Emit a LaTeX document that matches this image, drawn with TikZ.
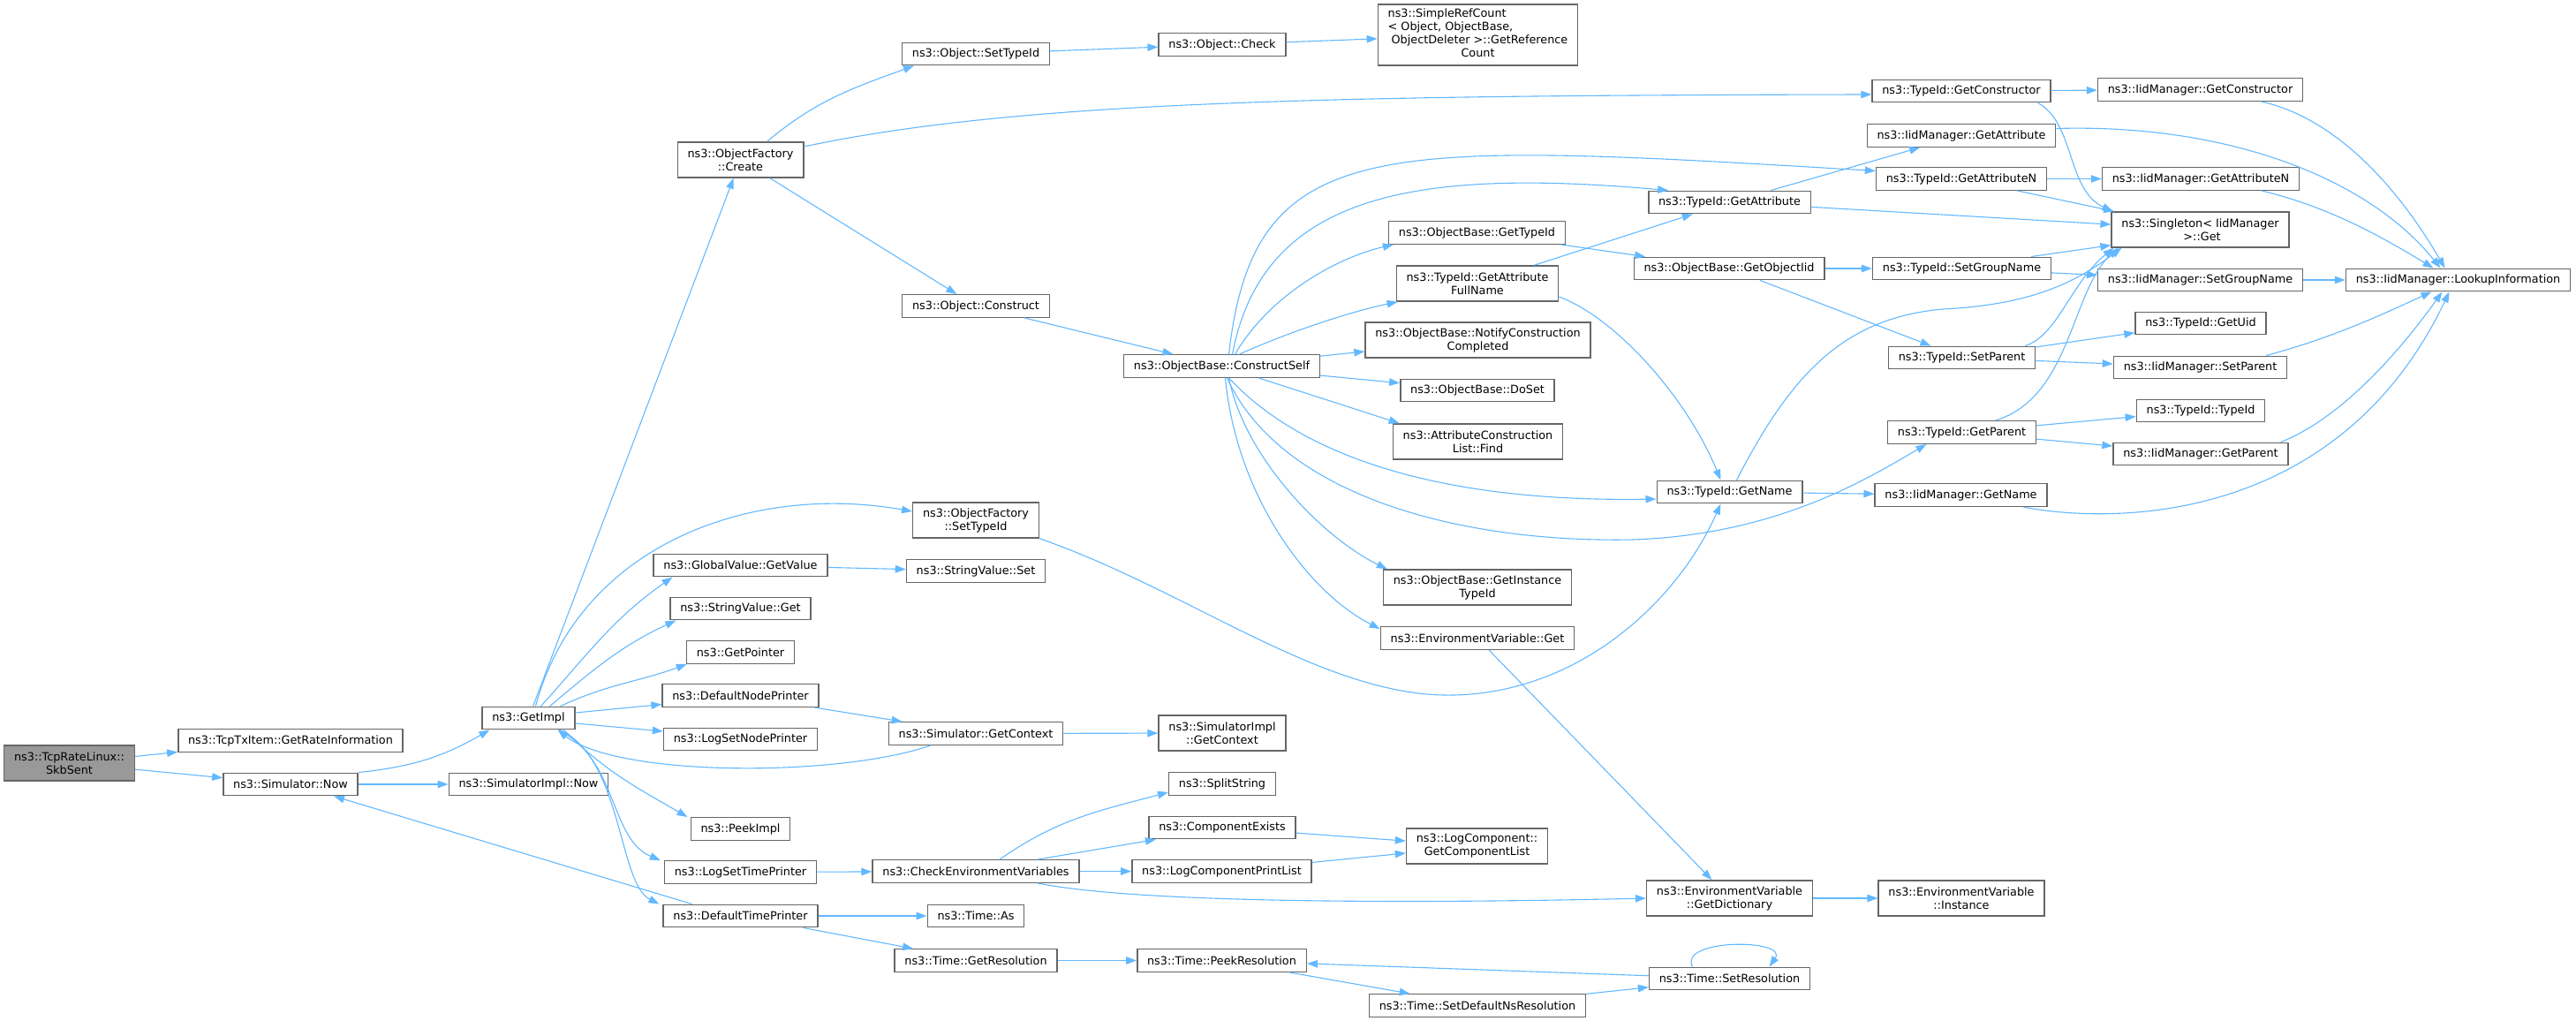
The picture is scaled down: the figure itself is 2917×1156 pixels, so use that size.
\documentclass[tikz,border=0pt]{standalone}
\usepackage{fontspec}
\setmainfont{DejaVu Sans}
\usepackage{tikz}
\usetikzlibrary{arrows.meta}
\definecolor{edgeblue}{HTML}{63B8FF}
\definecolor{boxline}{HTML}{666666}
\definecolor{rootfill}{HTML}{999999}
\newcommand{\fnsize}{\fontsize{12.8}{15}\selectfont}
\tikzset{
  fn/.style={ draw=boxline, line width=1.4pt, fill=white, inner xsep=11.3pt, inner ysep=2pt, minimum height=25.5pt, align=center, font=\fnsize }
}
\tikzset{
  fntwo/.style={ fn, minimum height=40pt }
}
\tikzset{
  fnroot/.style={ fntwo, fill=rootfill }
}
\tikzset{
  call/.style={ draw=edgeblue, line width=1.1pt, -{Triangle[length=12pt,width=8.5pt]} }
}
\begin{document}
\begin{tikzpicture}[x=1pt, y=1pt]
      \useasboundingbox (0,0) rectangle (2917,-1156);
      \node[fnroot] (skb) at (78.5,-864) {ns3::TcpRateLinux::\\SkbSent};

      \node[fn] (rate) at (329,-838.5) {ns3::TcpTxItem::GetRateInformation};
      \node[fn] (now) at (329,-888) {ns3::Simulator::Now};

      \node[fn] (getimpl) at (598.5,-813) {ns3::GetImpl};
      \node[fn] (implnow) at (598.5,-888) {ns3::SimulatorImpl::Now};

      \node[fntwo] (create) at (838.5,-181) {ns3::ObjectFactory\\::Create};
      \node[fn] (gval) at (838.5,-640) {ns3::GlobalValue::GetValue};
      \node[fn] (sget) at (838.5,-689) {ns3::StringValue::Get};
      \node[fn] (gptr) at (838.5,-738.5) {ns3::GetPointer};
      \node[fn] (dnp) at (838.5,-787.5) {ns3::DefaultNodePrinter};
      \node[fn] (lsnp) at (838.5,-837) {ns3::LogSetNodePrinter};
      \node[fn] (peek) at (838.5,-938.5) {ns3::PeekImpl};
      \node[fn] (lstp) at (838.5,-987.5) {ns3::LogSetTimePrinter};
      \node[fn] (dtp) at (838.5,-1037) {ns3::DefaultTimePrinter};

      \node[fn] (osettype) at (1105,-61) {ns3::Object::SetTypeId};
      \node[fn] (construct) at (1105,-346.5) {ns3::Object::Construct};
      \node[fntwo] (setfac) at (1105,-589) {ns3::ObjectFactory\\::SetTypeId};
      \node[fn] (sset) at (1105,-646.5) {ns3::StringValue::Set};
      \node[fn] (getctx) at (1105,-830.5) {ns3::Simulator::GetContext};
      \node[fn] (cev) at (1105,-986.5) {ns3::CheckEnvironmentVariables};
      \node[fn] (tas) at (1105,-1037) {ns3::Time::As};
      \node[fn] (getres) at (1105,-1087.5) {ns3::Time::GetResolution};

      \node[fn] (check) at (1384,-50.5) {ns3::Object::Check};
      \node[fn] (cself) at (1383.5,-414.5) {ns3::ObjectBase::ConstructSelf};
      \node[fntwo] (implctx) at (1384,-830) {ns3::SimulatorImpl\\::GetContext};
      \node[fn] (split) at (1384,-887.5) {ns3::SplitString};
      \node[fn] (cexists) at (1384,-937) {ns3::ComponentExists};
      \node[fn] (lcpl) at (1383.5,-986.5) {ns3::LogComponentPrintList};
      \node[fn] (peekres) at (1383.5,-1087.5) {ns3::Time::PeekResolution};

      \node[fn, minimum height=69pt] (refcount) at (1673.5,-39.5) {\begin{tabular}{@{}l@{}}ns3::SimpleRefCount\\< Object, ObjectBase,\\\hspace{4pt}ObjectDeleter >::GetReference\\\multicolumn{1}{@{}c@{}}{Count}\end{tabular}};
      \node[fn] (gettid) at (1672.5,-263.5) {ns3::ObjectBase::GetTypeId};
      \node[fntwo] (fullname) at (1673,-321) {ns3::TypeId::GetAttribute\\FullName};
      \node[fntwo] (notify) at (1673.5,-385) {ns3::ObjectBase::NotifyConstruction\\Completed};
      \node[fn] (doset) at (1673,-442) {ns3::ObjectBase::DoSet};
      \node[fntwo] (find) at (1673.5,-500) {ns3::AttributeConstruction\\List::Find};
      \node[fntwo] (insttid) at (1673,-665) {ns3::ObjectBase::GetInstance\\TypeId};
      \node[fn] (envget) at (1673,-722.5) {ns3::EnvironmentVariable::Get};
      \node[fntwo] (complist) at (1672.5,-958) {ns3::LogComponent::\\GetComponentList};
      \node[fn] (setdef) at (1673,-1138.5) {ns3::Time::SetDefaultNsResolution};

      \node[fn] (getattr) at (1958.5,-229) {ns3::TypeId::GetAttribute};
      \node[fn] (objiid) at (1958,-304) {ns3::ObjectBase::GetObjectIid};
      \node[fn] (getname) at (1958.5,-557) {ns3::TypeId::GetName};
      \node[fntwo] (getdict) at (1958.5,-1017) {ns3::EnvironmentVariable\\::GetDictionary};
      \node[fn] (setres) at (1958.5,-1108) {ns3::Time::SetResolution};

      \node[fn] (getctor) at (2221,-103) {ns3::TypeId::GetConstructor};
      \node[fn] (igetattr) at (2221,-153.5) {ns3::IidManager::GetAttribute};
      \node[fn] (getattrn) at (2221,-202.5) {ns3::TypeId::GetAttributeN};
      \node[fn] (setgroup) at (2221.5,-304) {ns3::TypeId::SetGroupName};
      \node[fn] (setparent) at (2221.5,-405) {ns3::TypeId::SetParent};
      \node[fn] (getparent) at (2221.5,-489.5) {ns3::TypeId::GetParent};
      \node[fn] (igetname) at (2220.5,-560.5) {ns3::IidManager::GetName};
      \node[fntwo] (instance) at (2221,-1017) {ns3::EnvironmentVariable\\::Instance};

      \node[fn] (igetctor) at (2491.5,-101.5) {ns3::IidManager::GetConstructor};
      \node[fn] (igetattrn) at (2492,-202.5) {ns3::IidManager::GetAttributeN};
      \node[fntwo] (single) at (2491.5,-260) {ns3::Singleton< IidManager\\\ >::Get};
      \node[fn] (isetgroup) at (2491.5,-317) {ns3::IidManager::SetGroupName};
      \node[fn] (getuid) at (2492,-366) {ns3::TypeId::GetUid};
      \node[fn] (isetparent) at (2491.5,-416) {ns3::IidManager::SetParent};
      \node[fn] (tidtid) at (2492,-465) {ns3::TypeId::TypeId};
      \node[fn] (igetparent) at (2492,-514) {ns3::IidManager::GetParent};

      \node[fn] (lookup) at (2783.5,-317) {ns3::IidManager::LookupInformation};

      \draw[call] (skb) -- (rate);
      \draw[call] (skb) -- (now);
      \draw[call] (now.north east) to[bend right=12] ([xshift=9pt]getimpl.south west);
      \draw[call] (now) -- (implnow);
      \draw[call] (getimpl) -- (create);
      \draw[call] ([xshift=8pt]getimpl.north) to[out=75,in=170] ([yshift=10pt]setfac.west);
      \draw[call] ([xshift=14pt]getimpl.north) to[out=48,in=215] ([xshift=22pt]gval.south west);
      \draw[call] ([xshift=24pt]getimpl.north) to[out=40,in=205] ([xshift=7pt]sget.south west);
      \draw[call] ([xshift=36pt]getimpl.north) to[out=25,in=200] ([xshift=1pt]gptr.south west);
      \draw[call] ([yshift=6pt]getimpl.east) -- ([yshift=-10pt]dnp.west);
      \draw[call] ([yshift=-6pt]getimpl.east) -- ([yshift=9pt]lsnp.west);
      \draw[call] ([xshift=40pt]getimpl.south) to[out=-45,in=150] ([xshift=-3pt]peek.north west);
      \draw[call] ([xshift=34pt]getimpl.south) .. controls (700,-860) and (690,-950) .. ([xshift=-4pt]lstp.north west);
      \draw[call] ([xshift=36pt]getimpl.south) .. controls (705,-860) and (700,-1000) .. ([xshift=-4pt]dtp.north west);
      \draw[call] ([xshift=-51pt]getctx.south) .. controls (950,-880) and (700,-880) .. ([xshift=33pt]getimpl.south);
      \draw[call] ([xshift=-55pt]dtp.north) -- ([xshift=49pt]now.south);

      \draw[call] (gval) -- (sset);
      \draw[call] (dnp) -- (getctx);
      \draw[call] (getctx) -- (implctx);
      \draw[call] (lstp) -- (cev);
      \draw[call] ([xshift=27pt]cev.north) to[out=35,in=195] ([yshift=4pt]split.south west);
      \draw[call] ([xshift=70pt]cev.north) -- ([xshift=-75pt]cexists.south);
      \draw[call] (cev) -- (lcpl);
      \draw[call] ([xshift=70pt]cev.south) .. controls (1300,-1025) and (1650,-1022) .. (getdict.west);
      \draw[call] (dtp) -- (tas);
      \draw[call] (dtp) -- (getres);
      \draw[call] (getres) -- (peekres);
      \draw[call] (peekres) -- (setdef);
      \draw[call] (setdef) -- (setres);
      \draw[call] (setres) -- (peekres);
      \draw[call] ([xshift=-42pt]setres.north) .. controls +(-17,32) and +(22,32) .. ([xshift=45pt]setres.north);
      \draw[call] (cexists) -- (complist);
      \draw[call] (lcpl) -- (complist);

      \draw[call] ([xshift=30pt]create.north) to[out=40,in=200] ([xshift=14pt]osettype.south west);
      \draw[call] ([yshift=15pt]create.east) .. controls (1150,-115) and (1500,-108) .. ([yshift=-4pt]getctor.west);
      \draw[call] (create) -- (construct);
      \draw[call] (osettype) -- (check);
      \draw[call] (check) -- (refcount);
      \draw[call] (construct) -- (cself);
      \draw[call] (setfac.south east) .. controls (1350,-670) and (1500,-790) .. (1646,-787) .. controls (1790,-784) and (1900,-680) .. ([xshift=-10pt]getname.south);

      \draw[call] ([xshift=8pt]cself.north) .. controls (1420,-150) and (1560,-160) .. ([yshift=9pt]getattrn.west);
      \draw[call] ([xshift=12pt]cself.north) .. controls (1430,-220) and (1600,-190) .. ([xshift=23pt]getattr.north west);
      \draw[call] ([xshift=15pt]cself.north) .. controls (1440,-330) and (1520,-290) .. ([xshift=6pt]gettid.south west);
      \draw[call] ([xshift=20pt]cself.north) .. controls (1450,-380) and (1520,-355) .. ([xshift=2pt]fullname.south west);
      \draw[call] (cself) -- (notify);
      \draw[call] (cself) -- (doset);
      \draw[call] (cself) -- ([xshift=8pt]find.north west);
      \draw[call] ([xshift=8pt]cself.south) .. controls (1440,-480) and (1560,-570) .. ([yshift=-8pt]getname.west);
      \draw[call] ([xshift=6pt]cself.south) .. controls (1450,-560) and (1650,-615) .. (1850,-611) .. controls (2010,-605) and (2110,-545) .. ([xshift=-40pt]getparent.south);
      \draw[call] ([xshift=8pt]cself.south) .. controls (1410,-520) and (1500,-610) .. ([xshift=5pt]insttid.north west);
      \draw[call] ([xshift=4pt]cself.south) .. controls (1400,-560) and (1480,-670) .. ([yshift=-3pt]envget.north west);
      \draw[call] (envget) -- (getdict);
      \draw[call] (getdict) -- (instance);

      \draw[call] (fullname) -- (getattr);
      \draw[call] ([yshift=-15pt]fullname.east) .. controls (1830,-360) and (1910,-450) .. ([xshift=-10pt]getname.north);
      \draw[call] (gettid) -- (objiid);
      \draw[call] (getattr) -- (igetattr);
      \draw[call] (getattr) -- (single);
      \draw[call] (objiid) -- (setgroup);
      \draw[call] (objiid) -- (setparent);
      \draw[call] (getname) -- (igetname);
      \draw[call] ([xshift=8pt]getname.north) .. controls (2030,-420) and (2090,-360) .. (2200,-350) .. controls (2300,-345) and (2350,-320) .. ([xshift=12pt]single.south west);

      \draw[call] (getctor) -- (igetctor);
      \draw[call] ([xshift=-15pt]getctor.south east) .. controls (2350,-140) and (2340,-215) .. ([xshift=2pt]single.north west);
      \draw[call] ([yshift=8pt]igetattr.east) .. controls (2520,-140) and (2680,-200) .. ([xshift=-20pt]lookup.north);
      \draw[call] (getattrn) -- (igetattrn);
      \draw[call] (getattrn) -- (single);
      \draw[call] (setgroup) -- (isetgroup);
      \draw[call] ([xshift=-23pt]setgroup.north east) -- ([yshift=3pt]single.south west);
      \draw[call] (setparent) -- (getuid);
      \draw[call] (setparent) -- (isetparent);
      \draw[call] ([xshift=-12pt]setparent.north east) .. controls (2330,-380) and (2345,-320) .. ([xshift=3pt]single.south west);
      \draw[call] (getparent) -- (tidtid);
      \draw[call] (getparent) -- (igetparent);
      \draw[call] ([xshift=38pt]getparent.north) .. controls (2345,-450) and (2345,-330) .. ([xshift=8pt]single.south west);

      \draw[call] ([xshift=69pt]igetctor.south) .. controls (2650,-135) and (2720,-220) .. ([xshift=-15pt]lookup.north);
      \draw[call] ([xshift=69pt]igetattrn.south) .. controls (2640,-235) and (2700,-270) .. ([xshift=-28pt]lookup.north);
      \draw[call] (isetgroup) -- (lookup);
      \draw[call] ([xshift=-24pt]isetparent.north east) .. controls (2650,-380) and (2710,-350) .. ([xshift=-30pt]lookup.south);
      \draw[call] ([xshift=-9pt]igetparent.north east) .. controls (2660,-470) and (2730,-380) .. ([xshift=-18pt]lookup.south);
      \draw[call] ([xshift=-28pt]igetname.south east) .. controls (2400,-595) and (2650,-590) .. ([xshift=-10pt]lookup.south);
    \end{tikzpicture}
\end{document}
